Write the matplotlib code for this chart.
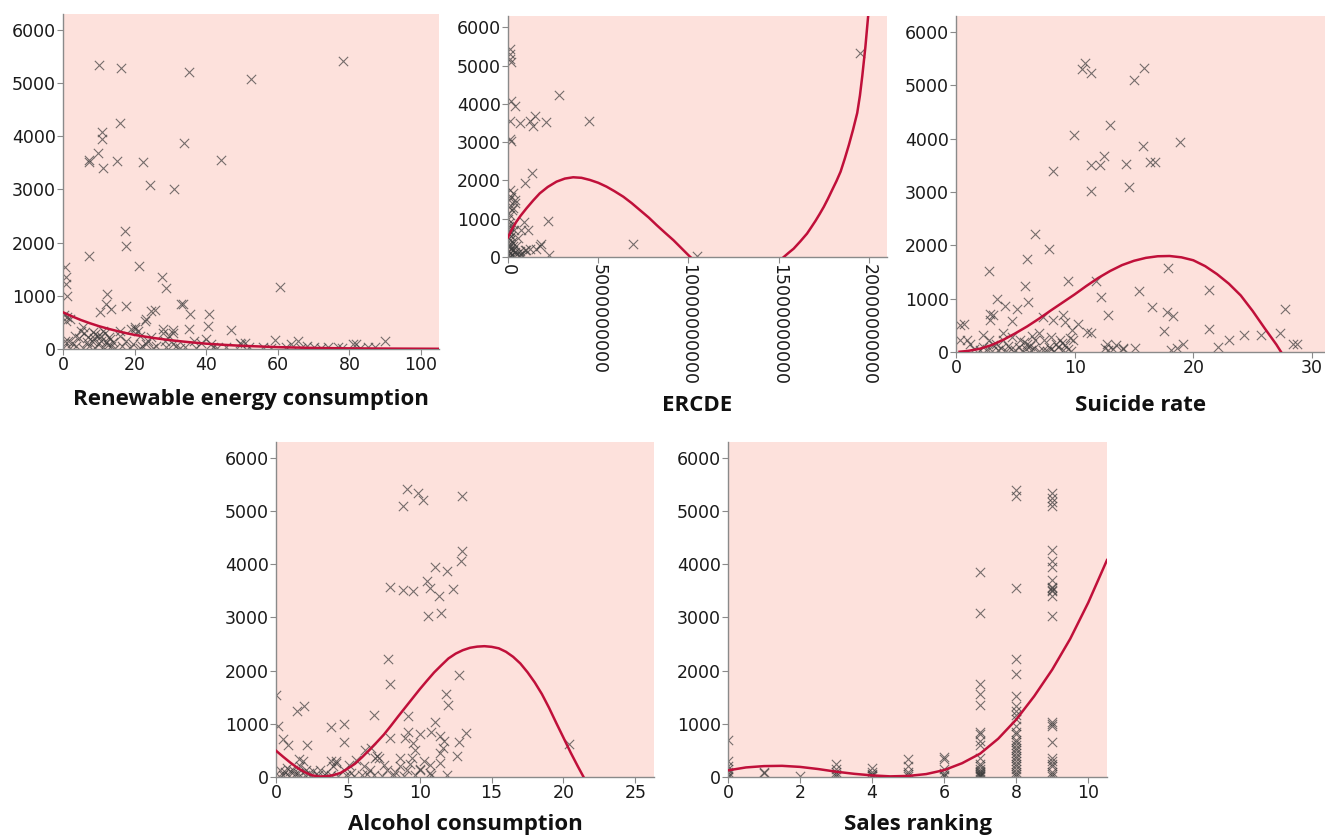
import matplotlib
matplotlib.use("Agg")
import matplotlib.pyplot as plt
from matplotlib.ticker import FixedLocator

plt.rcParams['font.family'] = ['DejaVu Sans']

# ---- data ----
renew_x = [10.0, 16.1, 35.3, 52.6, 78.1, 15.8, 10.9, 10.9, 9.8, 7.3, 7.4, 11.2, 15.2, 22.3, 33.8, 44.2,
           24.2, 30.9, 17.2, 17.5, 7.4, 21.1, 27.7, 28.8, 60.7, 0.5, 0.7, 0.7, 1.2, 12.3, 11.9, 10.2,
           13.5, 17.7, 33.0, 33.5, 24.7, 25.6, 23.1, 35.5, 40.9, 40.6, 35.3, 47.0, 27.9, 30.7, 20.0,
           19.1, 59.1, 65.6, 89.8, 63.7, 49.3, 50.7, 80.9, 81.9,
           0.9, 1.0, 0.6, 1.4, 3.3, 5.1, 7.0, 6.8, 8.4, 9.8, 10.7, 11.2, 12.1, 14.0, 15.8, 17.7, 20.0,
           20.9, 22.8, 23.3, 24.7, 27.9, 28.4, 30.7, 30.7, 36.7, 40.0, 41.4, 49.8, 70.2, 73.9, 76.7,
           85.1, 55.8, 62.3, 0.1, 1.9, 3.7, 5.6, 7.4, 8.8, 9.8, 11.2, 12.6, 14.4, 18.6, 21.4, 25.1,
           28.8, 32.6, 37.2, 41.9, 45.6, 2.5, 4.5, 6.0, 8.0, 9.0, 10.5, 12.8, 13.5, 16.5, 19.5, 22.0,
           23.8, 26.0, 29.5, 31.5, 34.0, 38.5, 43.0, 52.0, 58.0, 66.5, 68.0, 72.0, 78.0, 83.0, 87.0,
           2.0, 0.3, 5.5, 8.6, 11.7, 13.0, 16.0, 21.5]
renew_y = [5339, 5276, 5213, 5087, 5408, 4250, 4080, 3948, 3683, 3557, 3513, 3400, 3538, 3520, 3866, 3545,
           3085, 3016, 2222, 1933, 1750, 1568, 1360, 1152, 1165, 1543, 1354, 1228, 988, 1026, 837, 693,
           756, 818, 837, 837, 724, 737, 567, 661, 661, 441, 378, 359, 378, 359, 409,
           378, 170, 157, 145, 94, 107, 107, 94, 94,
           534, 596, 157, 157, 251, 345, 219, 125, 313, 251, 157, 345, 125, 125, 251, 157, 377,
           345, 534, 94, 219, 300, 157, 300, 94, 157, 188, 94, 94, 43, 43, 43,
           43, 43, 43, 20, 20, 50, 20, 50, 20, 94, 43, 80, 20, 20, 20, 20,
           43, 20, 20, 43, 43, 120, 200, 300, 150, 280, 240, 230, 60, 60, 90, 60,
           150, 60, 250, 60, 40, 120, 20, 30, 20, 20, 60, 20, 20, 20, 30,
           560, 640, 420, 210, 300, 180, 330, 240]
renew_fit_x = [0, 2.5, 5, 7.5, 10, 12.5, 15, 17.5, 20, 25, 30, 35, 40, 45, 50, 60, 70, 80, 90, 105]
renew_fit_y = [690, 615, 545, 485, 430, 383, 340, 300, 265, 210, 165, 130, 100, 78, 60, 35, 20, 12, 8, 4]

# ERCDE in units of 1e9
ercde_x = [19.5, 0.09, 0.12, 0.10, 0.19, 0.19, 0.37, 2.83, 4.48, 0.13, 0.65, 1.2, 1.48, 1.39, 2.13,
           0.15, 0.1, 1.35, 0.93, 0.09, 0.19, 0.37, 0.28, 2.22, 0.87, 1.11, 0.74, 6.94, 10.46, 1.76,
           1.85, 1.57, 2.26, 1.02, 1.2, 0.74, 0.3, 0.37, 0.2, 0.93, 0.65,
           0.02, 0.05, 0.08, 0.03, 0.1, 0.06, 0.15, 0.04, 0.12, 0.2, 0.05, 0.09, 0.25, 0.03, 0.15,
           0.3, 0.07, 0.4, 0.12, 0.5, 0.02, 0.2, 0.6, 0.1, 0.3, 0.8, 0.05, 0.45, 0.55, 0.35, 0.25,
           0.12, 0.04, 0.08]
ercde_y = [5342, 5429, 5298, 5184, 5096, 4072, 3940, 4247, 3564, 3546, 3503, 3546, 3678, 3415, 3520,
           3021, 3083, 2207, 1926, 1751, 1576, 1489, 1270, 946, 919, 700, 700, 350, 17, 280,
           333, 219, 44, 175, 219, 88, 1665, 1400, 1225, 190, 150,
           1000, 900, 800, 700, 650, 600, 550, 500, 450, 400, 350, 300, 280, 250, 200,
           180, 150, 120, 100, 80, 60, 50, 40, 30, 20, 15, 10, 300, 500, 700, 850,
           1100, 1300, 1500]
ercde_fit_x = [0, 0.1, 0.19, 0.3, 0.46, 0.7, 1.02, 1.4, 1.76, 2.2, 2.69, 3.15, 3.61, 4.07, 4.54,
               5.0, 5.46, 5.9, 6.39, 6.85, 7.31, 7.8, 8.24, 8.7, 9.17, 9.6, 10.06, 12.7,
               15.28, 15.55, 15.83, 16.2, 16.57, 16.8, 17.04, 17.27, 17.5, 17.73, 17.96, 18.2,
               18.43, 18.66, 18.89, 19.12, 19.35, 19.5, 19.63, 19.8, 19.96]
ercde_fit_y = [515, 610, 700, 790, 920, 1080, 1270, 1480, 1664, 1830, 1970, 2050, 2084, 2070, 2014,
               1940, 1839, 1720, 1576, 1410, 1226, 1030, 832, 635, 438, 235, 18, -1100,
               0, 110, 219, 410, 613, 775, 946, 1125, 1313, 1525, 1751, 1985,
               2233, 2570, 2933, 3330, 3765, 4220, 4729, 5480, 6322]

suicide_x = [10.9, 10.6, 11.4, 15.85, 15.0, 13.0, 9.96, 18.9, 15.8, 12.5, 11.4, 12.1, 14.3, 16.35, 16.8,
             8.2, 11.4, 14.6, 6.7, 7.85, 6.0, 2.75, 9.4, 11.8, 5.8, 17.9, 15.4, 21.3, 3.45, 6.06, 12.2,
             4.15, 5.1, 16.55, 27.7, 2.9, 3.1, 7.3, 12.8, 17.75, 18.3, 2.83, 4.7, 8.2, 9.0, 9.2, 9.8,
             10.3, 0.36, 0.65, 4.0, 7.0, 11.0, 11.4, 17.5, 21.3, 23.0, 24.3, 25.7, 27.3, 22.1, 19.1,
             18.6, 18.1, 28.4, 28.75, 12.7, 13.5, 14.1, 15.1, 12.85,
             0.36, 0.92, 2.3, 2.75, 3.4, 3.97, 4.7, 5.4, 6.0, 6.7, 7.4, 7.98, 8.4, 8.8, 9.2, 9.9, 2.3,
             12.56, 13.27, 14.1,
             1.5, 2.0, 2.6, 3.0, 3.5, 3.8, 4.2, 4.6, 5.0, 5.3, 5.6, 5.9, 6.3, 6.6, 7.0, 7.3, 7.7, 8.0,
             8.3, 8.6, 9.0, 9.4, 9.7, 4.4, 6.2, 7.8, 3.1, 5.7, 8.9, 1.2, 9.6, 6.4]
suicide_y = [5423, 5298, 5223, 5329, 5091, 4251, 4063, 3937, 3856, 3680, 3511, 3511, 3530, 3555, 3561,
             3386, 3022, 3085, 2213, 1925, 1743, 1524, 1329, 1329, 1235, 1567, 1141, 1160, 991, 940, 1034,
             859, 802, 846, 815, 721, 702, 658, 690, 752, 671, 596, 583, 608, 690, 564, 408,
             533, 502, 533, 357, 357, 376, 364, 389, 439, 232, 326, 313, 364, 94, 157,
             75, 44, 157, 144, 157, 125, 75, 75, 31,
             220, 220, 314, 220, 157, 220, 282, 220, 157, 220, 220, 282, 157, 220, 125, 220, 94,
             75, 63, 50,
             60, 30, 50, 15, 40, 80, 20, 60, 30, 90, 15, 50, 30, 70, 20, 45, 15, 60,
             25, 90, 30, 50, 15, 120, 110, 100, 130, 180, 160, 150, 270, 300]
suicide_fit_x = [0.3, 1, 2, 3, 4, 5, 6, 7, 8, 9, 10, 11, 12, 13, 14, 15, 16, 17, 18, 19, 20, 21,
                 22, 23, 24, 25, 26, 27, 27.4, 28.5]
suicide_fit_y = [5, 20, 60, 130, 230, 350, 480, 625, 780, 930, 1080, 1240, 1390, 1520, 1630, 1710,
                 1765, 1795, 1800, 1775, 1720, 1610, 1460, 1280, 1060, 770, 450, 140, 0, -500]

alcohol_x = [9.1, 9.87, 10.2, 8.87, 12.93, 12.93, 12.88, 11.07, 11.88, 10.49, 10.72, 12.3, 7.94, 8.87,
             9.56, 11.37, 10.6, 11.47, 7.78, 7.94, 12.7, 11.84, 12.0, 0.0, 1.49, 1.97, 6.82, 9.2,
             11.07, 4.76, 3.83, 0.12, 0.5, 0.86, 2.14, 4.76, 7.94, 8.98, 9.2, 10.0, 10.8, 11.4, 11.7,
             12.7, 13.2, 9.56, 9.67, 11.6, 11.4, 12.6, 8.6, 9.45, 11.4, 10.7, 10.0, 11.9, 10.8, 1.62,
             1.9, 3.83, 4.2, 6.9, 7.2, 6.2, 6.6, 20.4,
             0.28, 0.74, 1.2, 1.67, 2.1, 2.6, 3.06, 3.5, 4.0, 4.2, 4.7, 5.1, 5.6, 6.1, 6.55, 7.0, 7.5,
             7.7, 8.6, 9.1, 10.0, 10.7,
             0.2, 0.5, 0.9, 1.3, 1.6, 2.0, 2.4, 2.9, 3.3, 3.8, 4.3, 4.9, 5.4, 6.0, 6.8, 7.4, 8.2, 8.9,
             9.7, 0.6, 1.0, 1.5, 2.3, 5.2, 6.3, 8.3, 9.3, 10.3]
alcohol_y = [5417, 5342, 5216, 5091, 5292, 4257, 4069, 3944, 3868, 3680, 3555, 3536, 3567, 3517,
             3505, 3398, 3022, 3085, 2219, 1749, 1925, 1567, 1348, 1536, 1235, 1329, 1160, 1154,
             1028, 997, 934, 953, 715, 608, 608, 658, 734, 734, 840, 815, 840, 765, 671,
             652, 828, 640, 514, 545, 451, 389, 357, 357, 263, 232, 150, 44, 44, 345,
             307, 295, 263, 357, 357, 514, 545, 627,
             137, 169, 137, 200, 137, 106, 137, 75, 200, 294, 137, 232, 325, 200, 137, 388, 232,
             137, 200, 137, 137, 75,
             20, 40, 20, 60, 20, 40, 20, 30, 20, 40, 20, 30, 20, 40, 30, 20, 40, 20,
             30, 90, 110, 80, 70, 80, 60, 100, 250, 300]
alcohol_fit_x = [0, 0.5, 1, 1.5, 2, 2.5, 3, 3.5, 4, 4.5, 5, 5.5, 6, 6.5, 7, 7.5, 8, 8.5, 9, 9.5, 10,
                 10.5, 11, 11.5, 12, 12.5, 13, 13.5, 14, 14.5, 15, 15.5, 16, 16.5, 17, 17.5, 18,
                 18.5, 19, 19.5, 20, 20.5, 21, 21.4, 22]
alcohol_fit_y = [495, 380, 270, 170, 90, 32, 10, 13, 35, 78, 160, 250, 375, 510, 650, 796, 965, 1140,
                 1310, 1480, 1650, 1810, 1966, 2100, 2230, 2320, 2385, 2430, 2452, 2460, 2448, 2420,
                 2355, 2260, 2135, 1970, 1780, 1560, 1300, 1016, 740, 460, 200, 0, -450]

sales_ranks = [0, 1, 2, 3, 4, 5, 6, 7, 8, 9]
sales_values = [
    [690, 300, 200, 150, 100, 50, 20, 0],
    [100, 80],
    [10],
    [250, 150, 100, 50, 20],
    [170, 100, 50, 30, 10],
    [340, 200, 100, 60, 20],
    [370, 330, 150, 80, 40, 10],
    [3860, 3080, 1740, 1570, 1350, 850, 800, 680, 600, 350, 250, 200, 150, 120, 100, 80, 60, 40,
     20, 10],
    [5400, 5290, 3550, 2210, 1930, 1520, 1330, 1250, 1160, 1100, 950, 850, 800, 700, 650, 600, 550,
     500, 450, 400, 350, 300, 250, 200, 150, 100, 50, 20],
    [5340, 5240, 5170, 5100, 4260, 4070, 3950, 3700, 3580, 3550, 3520, 3500, 3400, 3020, 1030, 1000,
     950, 650, 350, 300, 250, 200, 100, 50, 10],
]
sales_fit_x = [0, 0.5, 1, 1.5, 2, 2.5, 3, 3.5, 4, 4.5, 5, 5.5, 6, 6.5, 7, 7.5, 8, 8.5, 9, 9.5, 10, 10.52]
sales_fit_y = [125, 180, 205, 210, 190, 150, 100, 60, 30, 12, 20, 55, 130, 260, 440, 720, 1080, 1520,
               2020, 2600, 3280, 4080]

y_ticks = [0, 1000, 2000, 3000, 4000, 5000, 6000]

# ---- styling ----
BG = '#fde1dc'
FIT = '#c0103a'
MARK = '#3c3c3c'
W, H = 1325, 838


def px_box(left, top, right, bottom):
    return [left / W, 1 - bottom / H, (right - left) / W, (bottom - top) / H]


def panel(box, xs, ys, fx, fy, xlim, xticks, label, label_y, xticklabels=None, rot=0):
    ax = fig.add_axes(px_box(*box))
    ax.set_facecolor(BG)
    ax.scatter(xs, ys, marker='x', s=45, linewidths=0.8, color=MARK, alpha=0.7, zorder=2)
    ax.plot(fx, fy, color=FIT, lw=1.8, zorder=3, solid_joinstyle='round')
    ax.set_xlim(*xlim)
    ax.set_ylim(0, 6300)
    ax.yaxis.set_major_locator(FixedLocator(y_ticks))
    ax.xaxis.set_major_locator(FixedLocator(xticks))
    if xticklabels is not None:
        ax.set_xticklabels(xticklabels, rotation=rot, va='top', ha='center')
    for s in ('top', 'right'):
        ax.spines[s].set_visible(False)
    for s in ('left', 'bottom'):
        ax.spines[s].set_color('#8a8a8a')
        ax.spines[s].set_linewidth(1.0)
    ax.tick_params(direction='out', length=4, width=0.8, color='#8a8a8a',
                   labelsize=12.5, labelcolor='#1a1a1a', pad=1)
    cx = (box[0] + box[2]) / 2
    fig.text(cx / W, 1 - label_y / H, label, ha='center', va='center',
             fontsize=16, fontweight='bold', family=['Open Sans', 'DejaVu Sans'], color='#111111')
    return ax


fig = plt.figure(figsize=(W / 100, H / 100), dpi=100)

panel((63, 14, 439, 349), renew_x, renew_y, renew_fit_x, renew_fit_y,
      (0, 105), [0, 20, 40, 60, 80, 100], 'Renewable energy consumption', 400)

e_ticks = [0, 5e9, 10e9, 15e9, 20e9]
panel((508, 16, 887, 257), [v * 1e9 for v in ercde_x], ercde_y,
      [v * 1e9 for v in ercde_fit_x], ercde_fit_y,
      (0, 2.1e10), e_ticks, 'ERCDE', 405,
      xticklabels=['0', '5000000000', '10000000000', '15000000000', '20000000000'], rot=-90)

panel((956, 16, 1325, 352), suicide_x, suicide_y, suicide_fit_x, suicide_fit_y,
      (0, 31.1), [0, 10, 20, 30], 'Suicide rate', 405)

panel((276, 442, 654, 777), alcohol_x, alcohol_y, alcohol_fit_x, alcohol_fit_y,
      (0, 26.3), [0, 5, 10, 15, 20, 25], 'Alcohol consumption', 824)

sales_x = [r for r, vals in zip(sales_ranks, sales_values) for _ in vals]
sales_y = [v for vals in sales_values for v in vals]
panel((728, 442, 1107, 777), sales_x, sales_y, sales_fit_x, sales_fit_y,
      (0, 10.52), [0, 2, 4, 6, 8, 10], 'Sales ranking', 824)

fig.savefig('out.png', dpi=100)
